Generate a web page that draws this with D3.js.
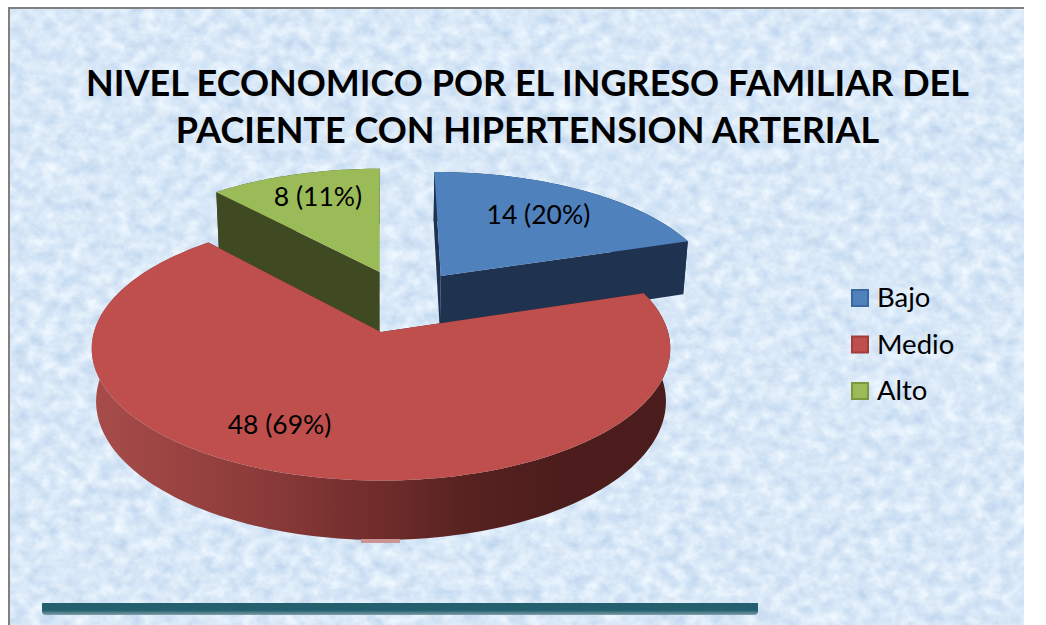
<!DOCTYPE html>
<html>
<head>
<meta charset="utf-8">
<script src="https://cdnjs.cloudflare.com/ajax/libs/d3/7.8.5/d3.min.js"></script>
<style>
  html, body { margin: 0; padding: 0; background: #fff; }
  svg { display: block; }
  text { font-family: Lato, "Open Sans", sans-serif; fill: #000; }
</style>
</head>
<body>
<script>
// chart values
const categories = ['Bajo', 'Medio', 'Alto']
const counts = [14, 48, 8]
const percents = [20, 69, 11]
const titleLines = [
  'NIVEL ECONOMICO POR EL INGRESO FAMILIAR DEL',
  'PACIENTE CON HIPERTENSION ARTERIAL',
]

const WIDTH = 1046
const HEIGHT = 625

const topColor = d3.scaleOrdinal(categories, ['#4f81bd', '#be4f4c', '#9bbb59'])
const wallColor = d3.scaleOrdinal(categories, ['#1f3350', '#4a1c1b', '#3f4a22'])
const swatchStroke = d3.scaleOrdinal(categories, ['#3a689f', '#a03c3a', '#7c983f'])

// pie geometry, the ground plane is seen from above with some perspective
const CX = 381
const CY = 332
const RX = 287
const RY = 130
const PERSP = 0.125
const NARROW = 0.985

// how far each slice is pulled out of the pie, in radius units
const pullOut = { Bajo: [0.22, 0.455], Medio: [0, 0], Alto: [-0.005, 0.49] }
// wall height of each slice before perspective
const wallHeight = { Bajo: 58, Medio: 52, Alto: 66 }
// where each label sits inside its slice
const labelSpot = { Bajo: [35.5, 0.685], Medio: [206.4, 0.73], Alto: [340.6, 0.745] }

function project(X, Y, z) {
  const s = 1 / (1 + PERSP * Y)
  const k = z ? NARROW : 1
  return [CX + RX * X * s * k, CY - RY * Y * s + z * s]
}

function onRim(d, a, bottom, r = 1) {
  const [ox, oy] = pullOut[d.data.name]
  const z = bottom ? wallHeight[d.data.name] : 0
  return project(ox + r * Math.sin(a), oy + r * Math.cos(a), z)
}

function rimPoints(d, a0, a1, bottom) {
  const n = Math.max(2, Math.ceil(Math.abs(a1 - a0) * 40))
  return d3.range(n + 1).map(i => onRim(d, a0 + (a1 - a0) * i / n, bottom))
}

const line = d3.line()

const svg = d3.select('body')
  .append('svg')
  .attr('width', WIDTH)
  .attr('height', HEIGHT)
  .attr('viewBox', `0 0 ${WIDTH} ${HEIGHT}`)

const defs = svg.append('defs')

// mottled paper texture of the chart area
const paper = defs.append('filter')
  .attr('id', 'paper')
  .attr('x', 0).attr('y', 0).attr('width', 1).attr('height', 1)
  .attr('color-interpolation-filters', 'sRGB')
paper.append('feTurbulence')
  .attr('type', 'fractalNoise')
  .attr('baseFrequency', '0.07 0.08')
  .attr('numOctaves', 5)
  .attr('seed', 7)
paper.append('feColorMatrix')
  .attr('type', 'matrix')
  .attr('values', `
    0.25 0 0 0 0.725
    0.18 0 0 0 0.82
    0.09 0 0 0 0.925
    0 0 0 0 1`)

const wallGradient = defs.append('linearGradient')
  .attr('id', 'redWall')
  .attr('gradientUnits', 'userSpaceOnUse')
  .attr('x1', 92).attr('x2', 671).attr('y1', 0).attr('y2', 0)
wallGradient.selectAll('stop')
  .data([[0, '#a84c4a'], [0.3, '#8a3b39'], [0.5, '#6f2c2b'], [0.65, '#572220'], [0.8, '#4c1d1c'], [1, '#4a1c1b']])
  .enter()
  .append('stop')
  .attr('offset', d => d[0])
  .attr('stop-color', d => d[1])

const barGradient = defs.append('linearGradient')
  .attr('id', 'barShade')
  .attr('x1', 0).attr('x2', 0).attr('y1', 0).attr('y2', 1)
barGradient.selectAll('stop')
  .data([[0, '#245f6e'], [0.6, '#245f6e'], [1, '#80a0ab']])
  .enter()
  .append('stop')
  .attr('offset', d => d[0])
  .attr('stop-color', d => d[1])

// background and frame
svg.append('rect')
  .attr('x', 9).attr('y', 8)
  .attr('width', 1015).attr('height', 617)
  .attr('filter', 'url(#paper)')
svg.append('path')
  .attr('d', 'M9 625V8H1024')
  .attr('fill', 'none')
  .attr('stroke', '#808080')
  .attr('stroke-width', 2)

// bar at the bottom
svg.append('path')
  .attr('d', 'M42 603H758V611Q758 615 754 615H46Q42 615 42 611Z')
  .attr('fill', 'url(#barShade)')

// title
svg.append('g')
  .selectAll('text')
  .data(titleLines)
  .enter()
  .append('text')
  .attr('x', 527.5)
  .attr('y', (d, i) => 96 + i * 47)
  .attr('text-anchor', 'middle')
  .attr('font-size', 36)
  .attr('font-weight', 700)
  .text(d => d)

// the pie, back slices first so that Medio covers them
const slices = d3.pie().sort(null)
  .value(d => d.value)(categories.map((name, i) => ({ name, value: counts[i], percent: percents[i] })))

const paintOrder = ['Bajo', 'Alto', 'Medio'].map(n => slices.find(s => s.data.name === n))
const pie = svg.append('g')

paintOrder.forEach(d => {
  const name = d.data.name
  const a0 = d.startAngle
  const a1 = d.endAngle
  const g = pie.append('g').attr('class', `slice-${name}`)

  // outer wall
  const wall = rimPoints(d, a0, a1, false).concat(rimPoints(d, a1, a0, true))
  g.append('path')
    .attr('d', line(wall) + 'Z')
    .attr('fill', name === 'Medio' ? 'url(#redWall)' : wallColor(name))

  // the two cut faces
  ;[a0, a1].forEach(a => {
    const face = [onRim(d, a, false, 0), onRim(d, a, false), onRim(d, a, true), onRim(d, a, true, 0)]
    g.append('path')
      .attr('d', line(face) + 'Z')
      .attr('fill', wallColor(name))
  })

  // top face
  const top = [onRim(d, 0, false, 0)].concat(rimPoints(d, a0, a1, false))
  g.append('path')
    .attr('d', line(top) + 'Z')
    .attr('fill', topColor(name))
})

// small pale sliver under the front of the red wall
svg.append('rect')
  .attr('x', 361).attr('y', 539)
  .attr('width', 39).attr('height', 4)
  .attr('fill', '#c99492')

// data labels
svg.append('g')
  .selectAll('text')
  .data(slices)
  .enter()
  .append('text')
  .attr('transform', d => {
    const [deg, r] = labelSpot[d.data.name]
    const [x, y] = onRim(d, deg * Math.PI / 180, false, r)
    return `translate(${x},${y})`
  })
  .attr('dy', '0.35em')
  .attr('text-anchor', 'middle')
  .attr('font-size', 26.5)
  .text(d => `${d.data.value} (${d.data.percent}%)`)

// legend
const legendY = d3.scalePoint().domain(categories).range([298, 391])
const legend = svg.append('g')
  .selectAll('g')
  .data(categories)
  .enter()
  .append('g')
  .attr('transform', d => `translate(852,${legendY(d)})`)
legend.append('rect')
  .attr('x', 0).attr('y', -8)
  .attr('width', 16).attr('height', 16)
  .attr('fill', d => topColor(d))
  .attr('stroke', d => swatchStroke(d))
  .attr('stroke-width', 2)
legend.append('text')
  .attr('x', 25)
  .attr('y', 9)
  .attr('font-size', 27.5)
  .text(d => d)
</script>
</body>
</html>
